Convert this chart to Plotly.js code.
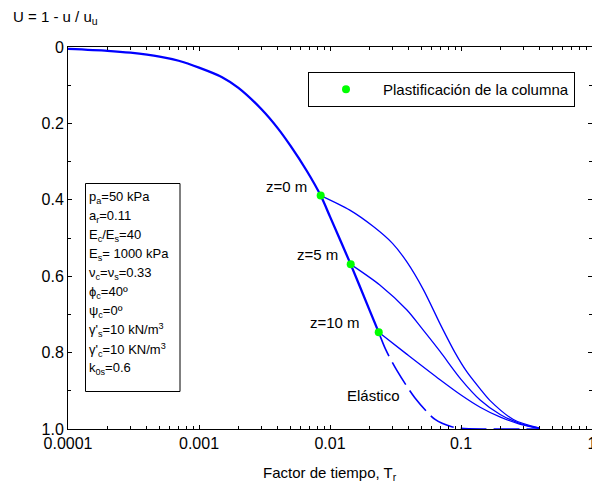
<!DOCTYPE html>
<html>
<head>
<meta charset="utf-8">
<script src="https://cdn.plot.ly/plotly-3.0.1.min.js"></script>
<style>html,body{margin:0;padding:0;background:#fff;}#chart{width:592px;height:492px;}</style>
</head>
<body>
<div id="chart"></div>
<script>
// Elastic (solid) curve up to plastification at z=10 m
var elasticT = [0.0001, 0.0002, 0.0003, 0.0005, 0.0007, 0.001, 0.0015, 0.002, 0.003, 0.004, 0.005, 0.00664, 0.00849, 0.01, 0.01439, 0.02, 0.02355];
var elasticU = [0.005, 0.010, 0.015, 0.025, 0.036, 0.054, 0.079, 0.107, 0.163, 0.213, 0.259, 0.324, 0.389, 0.444, 0.569, 0.688, 0.747];
// Elastic continuation (dashed)
var elasticDashT = [0.02355, 0.0267, 0.0323, 0.0444, 0.0634, 0.085, 0.1, 0.15, 0.25, 0.4];
var elasticDashU = [0.747, 0.793, 0.846, 0.918, 0.975, 0.994, 0.998, 1.0, 1.0, 1.0];
// Plastified column curves
var z0T = [0.00849, 0.01417, 0.02143, 0.030, 0.0385, 0.0516, 0.070, 0.090, 0.1107, 0.140, 0.166, 0.251, 0.40];
var z0U = [0.389, 0.427, 0.470, 0.514, 0.562, 0.635, 0.728, 0.800, 0.850, 0.895, 0.925, 0.975, 0.998];
var z5T = [0.01439, 0.024, 0.0385, 0.0501, 0.0692, 0.10, 0.14, 0.199, 0.28, 0.40];
var z5U = [0.569, 0.623, 0.688, 0.736, 0.797, 0.870, 0.924, 0.962, 0.985, 0.998];
var z10T = [0.02355, 0.0385, 0.0692, 0.10, 0.14, 0.20, 0.28, 0.40];
var z10U = [0.747, 0.804, 0.871, 0.911, 0.943, 0.969, 0.987, 0.999];
// Plastification points
var plastT = [0.00849, 0.01439, 0.02355];
var plastU = [0.389, 0.569, 0.747];
var plastName = "Plastificación de la columna";
var depthLabels = ["z=0 m", "z=5 m", "z=10 m"];
var depthLabelT = [0.00464, 0.00796, 0.01099];
var depthLabelU = [0.366, 0.543, 0.722];
var elasticLabel = "Elástico";
// Axis ticks
var xTickVals = [0.0001, 0.001, 0.01, 0.1, 1];
var xTickText = ["0.0001", "0.001", "0.01", "0.1", "1"];
var yTickVals = [0, 0.2, 0.4, 0.6, 0.8, 1.0];
var yTickText = ["0", "0.2", "0.4", "0.6", "0.8", "1.0"];
var yMinorVals = [0.1, 0.3, 0.5, 0.7, 0.9];
var paramLines = [
  "p<sub>a</sub>=50 kPa",
  "a<sub>r</sub>=0.11",
  "E<sub>c</sub>/E<sub>s</sub>=40",
  "E<sub>s</sub>= 1000 kPa",
  "ν<sub>c</sub>=ν<sub>s</sub>=0.33",
  "ϕ<sub>c</sub>=40º",
  "ψ<sub>c</sub>=0º",
  "γ'<sub>s</sub>=10 kN/m<sup>3</sup>",
  "γ'<sub>c</sub>=10 KN/m<sup>3</sup>",
  "k<sub>0s</sub>=0.6"
];
var yTitle = "U = 1 - u / u<sub>u</sub>";
var xTitle = "Factor de tiempo, T<sub>r</sub>";

var FONT = "Liberation Sans, Arial, sans-serif";
var BLUE = "#0000ff";

var xMinor = [];
for (var d = -4; d < 0; d++) { for (var k = 2; k <= 9; k++) { xMinor.push(k * Math.pow(10, d)); } }

var traces = [
  {x: elasticT, y: elasticU, mode: "lines", line: {color: BLUE, width: 2.3, shape: "spline", smoothing: 0.8}, showlegend: false},
  {x: elasticDashT, y: elasticDashU, mode: "lines", line: {color: BLUE, width: 1.6, dash: "26px,7px", shape: "spline", smoothing: 0.8}, showlegend: false},
  {x: z0T, y: z0U, mode: "lines", line: {color: BLUE, width: 1.3, shape: "spline", smoothing: 0.8}, showlegend: false},
  {x: z5T, y: z5U, mode: "lines", line: {color: BLUE, width: 1.3, shape: "spline", smoothing: 0.8}, showlegend: false},
  {x: z10T, y: z10U, mode: "lines", line: {color: BLUE, width: 1.3, shape: "spline", smoothing: 0.8}, showlegend: false},
  {x: plastT, y: plastU, mode: "markers", name: plastName, marker: {color: "#00ff00", size: 8}, showlegend: true}
];

var L = 68, T = 47, W = 524, H = 382;
function px2paperX(px) { return (px - L) / W; }
function px2paperY(py) { return 1 - (py - T) / H; }

var annotations = [];
for (var i = 0; i < depthLabels.length; i++) {
  annotations.push({x: Math.log10(depthLabelT[i]), y: depthLabelU[i], xref: "x", yref: "y", text: depthLabels[i], showarrow: false, xanchor: "center", yanchor: "middle", font: {family: FONT, size: 15, color: "#000"}});
}
annotations.push({x: Math.log10(0.0213), y: 0.913, xref: "x", yref: "y", text: elasticLabel, showarrow: false, xanchor: "center", yanchor: "middle", font: {family: FONT, size: 15, color: "#000"}});
for (var j = 0; j < paramLines.length; j++) {
  annotations.push({x: px2paperX(87), y: px2paperY(195 + 19.07 * j), xref: "paper", yref: "paper", text: paramLines[j], showarrow: false, xanchor: "left", yanchor: "middle", yshift: -2, font: {family: FONT, size: 13, color: "#000"}});
}
annotations.push({x: px2paperX(11), y: px2paperY(17), xref: "paper", yref: "paper", text: yTitle, showarrow: false, xanchor: "left", yanchor: "middle", font: {family: FONT, size: 15, color: "#000"}});
annotations.push({x: px2paperX(330), y: px2paperY(473), xref: "paper", yref: "paper", text: xTitle, showarrow: false, xanchor: "center", yanchor: "middle", font: {family: FONT, size: 15, color: "#000"}});

var layout = {
  width: 592, height: 492,
  margin: {l: L, r: 0, t: T, b: 63, pad: 0},
  paper_bgcolor: "#fff", plot_bgcolor: "#fff",
  font: {family: FONT, size: 15, color: "#000"},
  showlegend: true,
  legend: {x: px2paperX(308), y: px2paperY(72), xanchor: "left", yanchor: "top", bgcolor: "#fff", bordercolor: "#000", borderwidth: 1, itemwidth: 64, font: {family: FONT, size: 15, color: "#000"}},
  xaxis: {type: "log", range: [-4, 0], showgrid: false, zeroline: false, showline: true, linecolor: "#000", linewidth: 1, mirror: "allticks",
    ticks: "inside", ticklen: 4, tickcolor: "#000", tickmode: "array", tickvals: xTickVals, ticktext: xTickText, ticklabeloverflow: "allow",
    tickfont: {family: FONT, size: 16, color: "#000"},
    minor: {tickmode: "array", tickvals: xMinor, ticks: "inside", ticklen: 3, tickcolor: "#000", showgrid: false}},
  yaxis: {range: [1, 0], showgrid: false, zeroline: false, showline: true, linecolor: "#000", linewidth: 1, mirror: "allticks",
    ticks: "inside", ticklen: 4, tickcolor: "#000", tickmode: "array", tickvals: yTickVals, ticktext: yTickText, tickfont: {family: FONT, size: 16, color: "#000"},
    minor: {tickmode: "array", tickvals: yMinorVals, ticks: "inside", ticklen: 3, tickcolor: "#000", showgrid: false}},
  shapes: [{type: "rect", xref: "paper", yref: "paper", x0: px2paperX(85.5), x1: px2paperX(180), y0: px2paperY(183.5), y1: px2paperY(391.5), line: {color: "#000", width: 1}, fillcolor: "rgba(0,0,0,0)"}],
  annotations: annotations
};

Plotly.newPlot("chart", traces, layout, {displayModeBar: false, staticPlot: true});
</script>
</body>
</html>
